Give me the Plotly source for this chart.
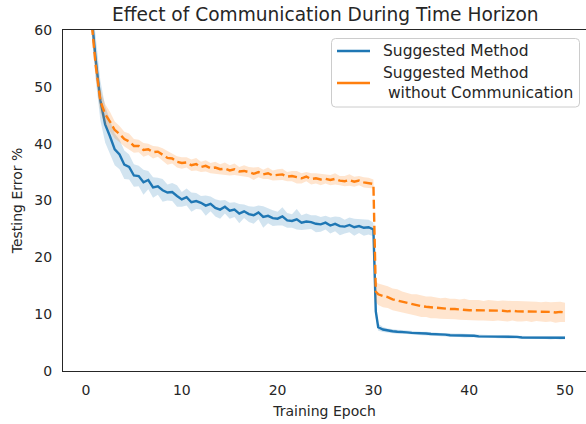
import plotly.graph_objects as go

# ---- data ----
epochs = [0.5 * i for i in range(1, 61)] + [30.25] + [30.5 + 0.5 * i for i in range(40)]

blue_mean = [
    64.0, 55.0, 47.6, 43.4, 41.3, 39.0, 38.1, 36.3, 35.9, 34.4,
    34.3, 33.2, 33.6, 32.3, 32.5, 31.8, 31.4, 31.5, 30.8, 30.2,
    30.6, 29.7, 29.9, 29.6, 29.1, 29.4, 28.7, 28.4, 28.9, 28.2,
    28.4, 27.7, 28.1, 27.6, 27.4, 27.9, 27.1, 27.3, 26.9, 26.8,
    27.2, 26.5, 26.4, 26.7, 26.1, 26.3, 26.2, 25.9, 25.8, 26.1,
    25.6, 25.9, 25.5, 25.4, 25.7, 25.3, 25.5, 25.2, 25.3, 24.9,
    10.5,
    7.7, 7.3, 7.1, 7.0, 6.9, 6.9, 6.8, 6.7, 6.7, 6.6,
    6.6, 6.5, 6.5, 6.4, 6.4, 6.3, 6.3, 6.3, 6.2, 6.2,
    6.2, 6.1, 6.1, 6.1, 6.1, 6.0, 6.0, 6.0, 6.0, 6.0,
    5.9, 5.9, 5.9, 5.9, 5.9, 5.9, 5.8, 5.9, 5.8, 5.85,
]
blue_halfwidth = [
    3.0, 3.5, 3.5, 3.2, 3.0, 2.8, 2.6, 2.5, 2.2, 2.0,
    1.8, 2.2, 1.6, 1.8, 1.5, 2.0, 1.4, 1.6, 1.9, 1.3,
    1.5, 1.7, 1.4, 1.2, 1.8, 1.3, 1.5, 1.6, 1.2, 1.4,
    1.3, 1.7, 1.2, 1.4, 1.5, 1.2, 1.9, 1.3, 1.4, 1.2,
    1.6, 1.3, 1.2, 1.8, 1.3, 1.4, 1.2, 1.5, 1.3, 1.2,
    1.4, 1.3, 1.6, 1.2, 1.3, 1.5, 1.2, 1.4, 1.3, 1.2,
    1.2,
    0.6, 0.45, 0.4, 0.35, 0.35, 0.3, 0.3, 0.3, 0.3, 0.3,
    0.3, 0.3, 0.3, 0.3, 0.3, 0.3, 0.3, 0.3, 0.3, 0.3,
    0.25, 0.3, 0.25, 0.3, 0.25, 0.25, 0.3, 0.25, 0.25, 0.25,
    0.25, 0.25, 0.25, 0.25, 0.25, 0.25, 0.25, 0.25, 0.25, 0.25,
]

orange_mean = [
    63.0, 54.0, 47.5, 45.2, 43.9, 42.4, 41.7, 40.8, 40.4, 39.6,
    39.6, 38.9, 39.0, 38.5, 38.6, 38.1, 37.5, 37.4, 36.8, 36.6,
    36.7, 36.2, 36.4, 35.9, 36.1, 35.7, 35.8, 35.5, 35.6, 35.3,
    35.5, 35.1, 35.2, 35.0, 34.7, 35.0, 34.6, 34.8, 34.4, 34.5,
    34.6, 34.2, 34.3, 34.1, 33.9, 34.2, 33.8, 33.9, 33.7, 33.8,
    33.6, 33.8, 33.5, 33.4, 33.6, 33.3, 33.5, 33.2, 33.1, 32.9,
    14.0,
    13.5, 13.2, 13.0, 12.6, 12.4, 12.1, 11.9, 11.7, 11.6, 11.4,
    11.3, 11.2, 11.1, 11.0, 11.0, 10.9, 10.9, 10.8, 10.8, 10.7,
    10.7, 10.7, 10.6, 10.7, 10.6, 10.6, 10.6, 10.5, 10.6, 10.5,
    10.5, 10.5, 10.4, 10.5, 10.4, 10.4, 10.4, 10.3, 10.4, 10.3,
]
orange_halfwidth = [
    1.5, 2.0, 2.0, 1.8, 1.7, 1.5, 1.4, 1.3, 1.4, 1.2,
    1.1, 1.2, 1.0, 1.1, 0.9, 1.1, 1.2, 0.9, 1.0, 1.0,
    0.9, 1.0, 1.1, 0.9, 1.0, 0.9, 1.0, 0.9, 1.1, 0.9,
    1.0, 0.8, 1.0, 0.9, 1.1, 0.9, 0.8, 1.0, 0.9, 1.0,
    1.0, 0.8, 0.9, 1.1, 0.9, 0.8, 1.0, 0.9, 1.0, 0.8,
    0.9, 1.0, 0.8, 0.9, 1.0, 0.9, 0.8, 0.9, 0.9, 0.8,
    1.8,
    1.9, 2.0, 1.9, 1.9, 2.0, 1.9, 1.9, 1.8, 1.9, 1.9,
    1.8, 1.9, 1.8, 1.8, 1.9, 1.8, 1.8, 1.8, 1.9, 1.8,
    1.8, 1.8, 1.7, 1.8, 1.8, 1.7, 1.8, 1.8, 1.7, 1.8,
    1.8, 1.7, 1.8, 1.7, 1.7, 1.8, 1.7, 1.8, 1.8, 1.7,
]

x_ticks = [0, 10, 20, 30, 40, 50]
y_ticks = [0, 10, 20, 30, 40, 50, 60]
legend_labels = ["Suggested Method", "Suggested Method<br>&nbsp;without Communication"]

BLUE = "#1f77b4"
ORANGE = "#ff7f0e"
TXT = "#262626"
FONT = "DejaVu Sans"

# plot area geometry (pixels)
W, H = 586, 424
L, R, T, B = 63, 0, 30, 53
PW, PH = W - L - R, H - T - B


def px(x):
    return (x - L) / PW


def py(y):
    return (H - B - y) / PH


def band(mean, hw):
    up = [m + h for m, h in zip(mean, hw)]
    lo = [m - h for m, h in zip(mean, hw)]
    return up, lo


fig = go.Figure()

for mean, hw, color, fillc, dash in [
    (blue_mean, blue_halfwidth, BLUE, "rgba(31,119,180,0.2)", "solid"),
    (orange_mean, orange_halfwidth, ORANGE, "rgba(255,127,14,0.2)", "9px,4px"),
]:
    up, lo = band(mean, hw)
    fig.add_trace(go.Scatter(
        x=epochs + epochs[::-1], y=up + lo[::-1], mode="lines",
        line=dict(width=0), fill="toself", fillcolor=fillc,
        hoverinfo="skip", showlegend=False))
    fig.add_trace(go.Scatter(
        x=epochs, y=mean, mode="lines",
        line=dict(color=color, width=2.4, dash=dash),
        showlegend=False))

# ---- custom legend (matplotlib-like box) ----
shapes = []
annotations = []
x0, x1, y0, y1, r = 331.5, 579.5, 38.5, 107.0, 4
path = (f"M {px(x0 + r)},{py(y0)} L {px(x1 - r)},{py(y0)} "
        f"Q {px(x1)},{py(y0)} {px(x1)},{py(y0 + r)} "
        f"L {px(x1)},{py(y1 - r)} Q {px(x1)},{py(y1)} {px(x1 - r)},{py(y1)} "
        f"L {px(x0 + r)},{py(y1)} Q {px(x0)},{py(y1)} {px(x0)},{py(y1 - r)} "
        f"L {px(x0)},{py(y0 + r)} Q {px(x0)},{py(y0)} {px(x0 + r)},{py(y0)} Z")
shapes.append(dict(type="path", xref="paper", yref="paper", path=path,
                   line=dict(color="#cccccc", width=1),
                   fillcolor="rgba(255,255,255,0.8)"))
entry_y = [51.0, 83.0]
for label, color, ey in zip(legend_labels, [BLUE, ORANGE], entry_y):
    shapes.append(dict(type="line", xref="paper", yref="paper",
                       x0=px(337), x1=px(370), y0=py(ey), y1=py(ey),
                       line=dict(color=color, width=2.4)))
    annotations.append(dict(text=label, xref="paper", yref="paper",
                            x=px(381), y=py(ey), xanchor="left", yanchor="middle",
                            align="left", showarrow=False,
                            font=dict(size=15.5, color=TXT, family=FONT)))

fig.update_layout(
    width=W, height=H,
    margin=dict(l=L, r=R, t=T, b=B),
    paper_bgcolor="white", plot_bgcolor="white",
    font=dict(family=FONT, color=TXT, size=14),
    title=dict(text="Effect of Communication During Time Horizon",
               x=0.555, xanchor="center", y=1 - 14 / 424, yanchor="middle",
               font=dict(size=18.6, color=TXT)),
    showlegend=False,
    shapes=shapes,
    annotations=annotations,
)
fig.update_xaxes(
    range=[-2.4, 52.19], tickvals=x_ticks, ticktext=[str(t) for t in x_ticks],
    showgrid=False, zeroline=False, showline=True, mirror=True, automargin=False,
    linecolor=TXT, linewidth=1.25, ticks="outside", ticklen=6,
    tickcolor="rgba(0,0,0,0)", tickfont=dict(size=14, color=TXT),
    title=dict(text="Training Epoch", font=dict(size=14, color=TXT), standoff=9),
)
fig.update_yaxes(
    range=[0, 60], tickvals=y_ticks, ticktext=[str(t) for t in y_ticks],
    showgrid=False, zeroline=False, showline=True, mirror=False, automargin=False,
    linecolor=TXT, linewidth=1.25, ticks="outside", ticklen=7,
    tickcolor="rgba(0,0,0,0)", tickfont=dict(size=14, color=TXT),
    title=dict(text="Testing Error %", font=dict(size=14, color=TXT), standoff=8),
)

fig.write_html("out.html",
               config={"displayModeBar": False},
               post_script="document.body.style.margin='0';document.body.style.overflow='hidden';")
